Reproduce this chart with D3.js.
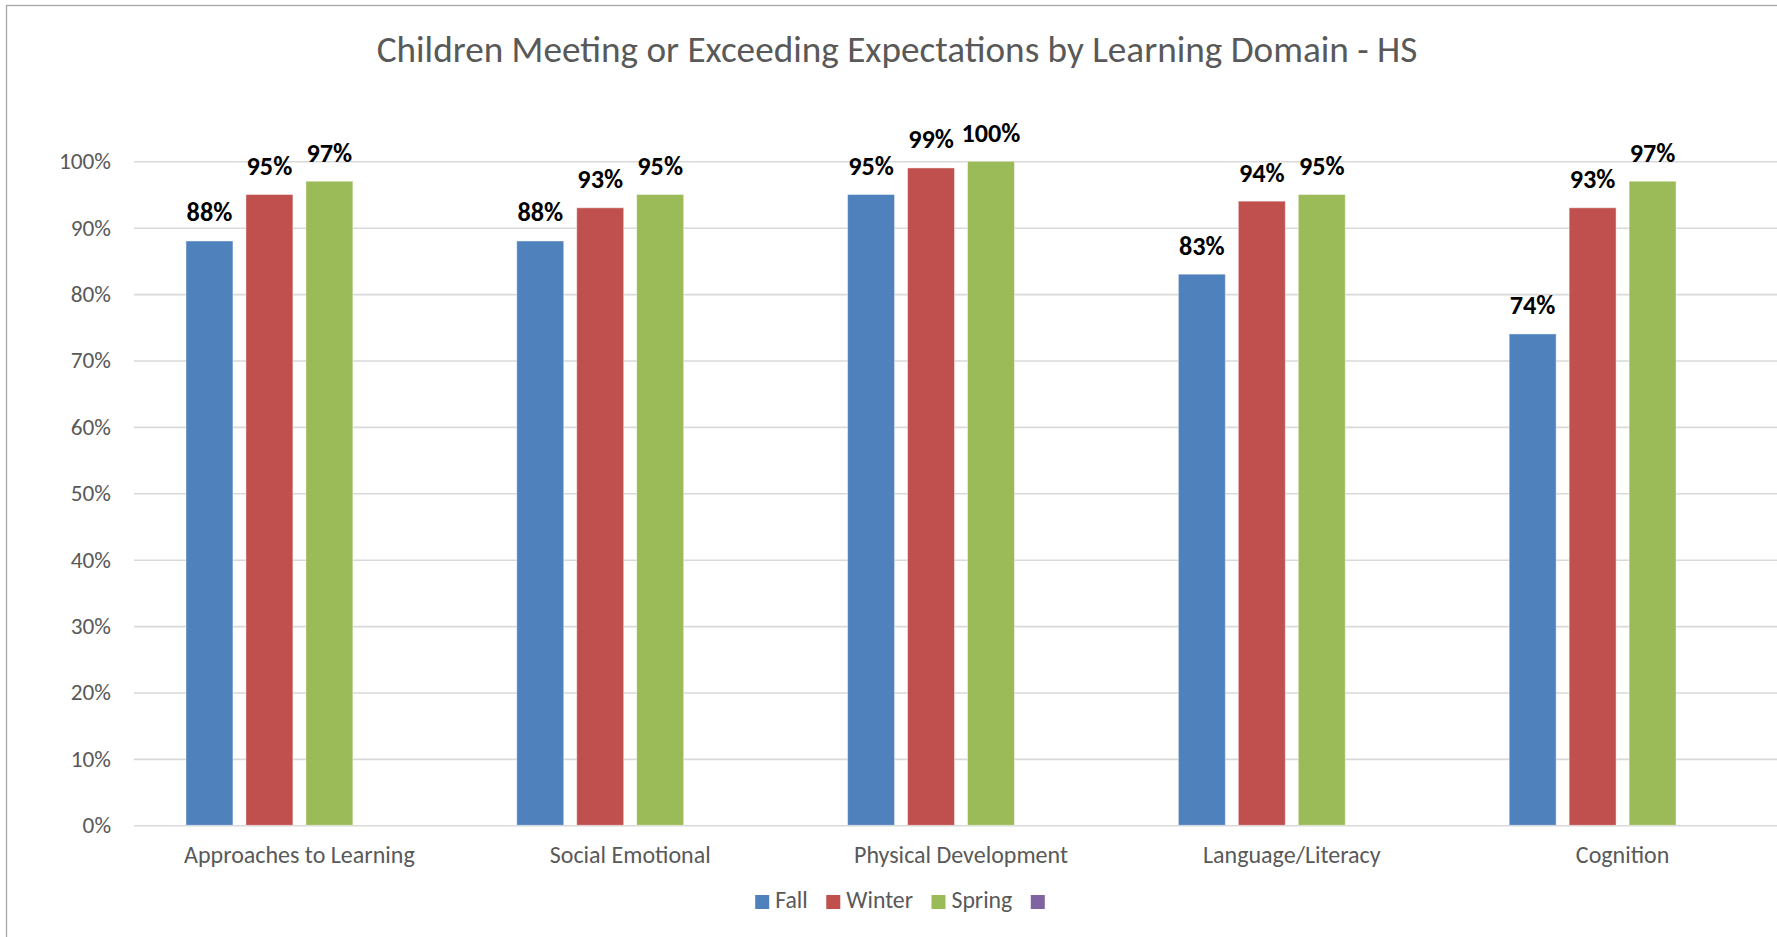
<!DOCTYPE html>
<html>
<head>
<meta charset="utf-8">
<script src="https://cdn.jsdelivr.net/npm/d3@7"></script>
<style>
  html, body { margin: 0; padding: 0; background: #fff; }
  svg { display: block; }
</style>
</head>
<body>
<script>
// ---- data ----
const categories = ["Approaches to Learning", "Social Emotional", "Physical Development", "Language/Literacy", "Cognition"];
const seriesNames = ["Fall", "Winter", "Spring", ""];
const fallValues   = [88, 88, 95, 83, 74];
const winterValues = [95, 93, 99, 94, 93];
const springValues = [97, 95, 100, 95, 97];
const emptyValues  = [null, null, null, null, null];
const yTicks = [0, 10, 20, 30, 40, 50, 60, 70, 80, 90, 100];
const titleText = "Children Meeting or Exceeding Expectations by Learning Domain - HS";

const seriesValues = [fallValues, winterValues, springValues, emptyValues];
const colors = ["#4F81BD", "#C0504D", "#9BBB59", "#8064A2"];

const W = 1777, H = 937;
const FONT = "Carlito, Calibri, 'Open Sans', sans-serif";
const svg = d3.select("body").append("svg").attr("width", W).attr("height", H)
  .style("font-family", FONT);

// font-size calibration so text widths match the reference
function fit(sample, weight, target) {
  const t = svg.append("text").attr("font-size", 100).attr("font-weight", weight).text(sample);
  const len = t.node().getComputedTextLength();
  t.remove();
  return 100 * target / len;
}
const fsTitle = fit(titleText, "normal", 1041);
const fsTick = fit("100%", "normal", 52);
const fsLabel = fit("88%", "bold", 45.7);
const fsCat = fit("Approaches to Learning", "normal", 230.7);
const fsLeg = fit("Winter", "normal", 66.7);

// chart border (extends past right/bottom edges)
svg.append("rect").attr("x", 6.5).attr("y", 5.5).attr("width", 1800).attr("height", 1000)
  .attr("fill", "none").attr("stroke", "#A6A6A6").attr("stroke-width", 1.3);

// title
svg.append("text").attr("x", 897).attr("y", 61.5).attr("text-anchor", "middle")
  .attr("font-size", fsTitle).attr("fill", "#595959").text(titleText);

const plotL = 134, plotR = 1788, plotT = 161.3, plotB = 825.3;

const x0 = d3.scaleBand().domain(categories).range([plotL, plotR]).paddingInner(0).paddingOuter(0);
const x1 = d3.scaleBand().domain(seriesNames.map((d, i) => i)).range([0, x0.bandwidth()])
  .paddingInner(13 / 60).paddingOuter(52 / 60);
const y = d3.scaleLinear().domain([0, 100]).range([plotB, plotT]);

// gridlines + y labels
const yAxis = d3.axisLeft(y).tickValues(yTicks).tickFormat(d => d + "%")
  .tickSizeInner(-(plotR - plotL)).tickSizeOuter(0).tickPadding(23);
const gy = svg.append("g").attr("transform", `translate(${plotL},0)`).call(yAxis);
gy.select(".domain").remove();
gy.selectAll(".tick line").attr("stroke", "#D9D9D9").attr("stroke-width", 1.6);
gy.selectAll(".tick text").attr("font-size", fsTick).attr("fill", "#595959")
  .attr("font-family", FONT);

// bars
categories.forEach((cat, ci) => {
  seriesValues.forEach((vals, si) => {
    const v = vals[ci];
    if (v == null) return;
    const bx = x0(cat) + x1(si);
    svg.append("rect")
      .attr("x", bx).attr("width", x1.bandwidth())
      .attr("y", y(v)).attr("height", y(0) - y(v))
      .attr("fill", colors[si])
      .attr("stroke", "rgba(255,255,255,0.45)").attr("stroke-width", 1);
    svg.append("text")
      .attr("x", bx + x1.bandwidth() / 2).attr("y", y(v) - 19.5)
      .attr("text-anchor", "middle").attr("font-weight", "bold")
      .attr("font-size", fsLabel).attr("fill", "#000")
      .text(v + "%");
  });
});

// x axis category labels
const xAxis = d3.axisBottom(x0).tickSize(0).tickPadding(0);
const gx = svg.append("g").attr("transform", `translate(0,${plotB})`).call(xAxis);
gx.select(".domain").remove();
gx.selectAll(".tick text").attr("dy", null).attr("y", 863 - plotB)
  .attr("font-size", fsCat).attr("fill", "#595959").attr("font-family", FONT);

// legend
const leg = svg.append("g");
let lx = 0;
const items = [];
seriesNames.forEach((name, i) => {
  const g = leg.append("g").attr("transform", `translate(${lx},0)`);
  g.append("rect").attr("x", 0).attr("y", 895).attr("width", 14).attr("height", 14).attr("fill", colors[i]);
  const t = g.append("text").attr("x", 20).attr("y", 908).attr("font-size", fsLeg)
    .attr("fill", "#595959").text(name);
  const tw = name ? t.node().getComputedTextLength() : 0;
  lx += 14 + (name ? 6 + tw : 0) + 18.5;
});
const legW = lx - 18.5;
leg.attr("transform", `translate(${900 - legW / 2},0)`);
</script>
</body>
</html>
